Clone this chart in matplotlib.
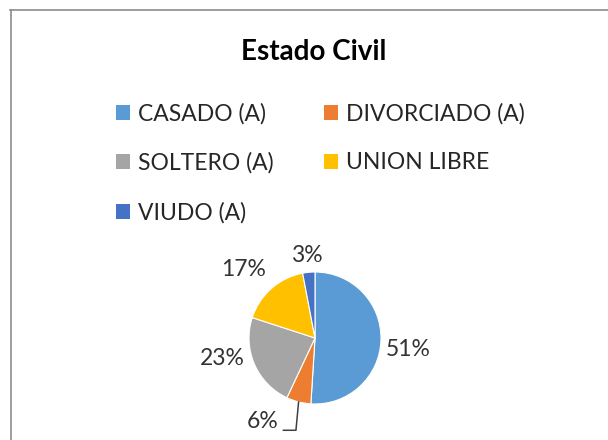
import numpy as np
import matplotlib
matplotlib.use("Agg")
import matplotlib.pyplot as plt
from matplotlib.patches import Patch
from matplotlib.lines import Line2D

plt.rcParams['font.family'] = ['Lato', 'DejaVu Sans']

categories = ['CASADO (A)', 'DIVORCIADO (A)', 'SOLTERO (A)', 'UNION LIBRE', 'VIUDO (A)']
percents = [51, 6, 23, 17, 3]
colors = ['#5B9BD5', '#ED7D31', '#A5A5A5', '#FFC000', '#4472C4']

# label placement: radial distance (pie radii) and angle nudge (deg)
label_dist = [1.43, 1.49, 1.44, 1.50, 1.26]
label_nudge = [-5, -18, -11, 5, 0]

fig = plt.figure(figsize=(6.08, 4.40), dpi=100)
W, H = 608, 440

# chart border (top and left edge visible)
fig.add_artist(Line2D([10 / W, 1], [1 - 10.5 / H, 1 - 10.5 / H], color='#8c8c8c', lw=1.2))
fig.add_artist(Line2D([10.5 / W, 10.5 / W], [0, 1 - 10.5 / H], color='#8c8c8c', lw=1.2))

fig.text(314 / W, 1 - 52 / H, 'Estado Civil', ha='center', va='center',
         fontsize=20, fontweight='bold', color='black')

# pie axes: centre at (315, 338) px, radius 66 px
L = 2.0
side = 2 * L * 66
ax = fig.add_axes([(315 - side / 2) / W, (H - 338 - side / 2) / H, side / W, side / H])

wedges, _ = ax.pie(percents, colors=colors, startangle=90, counterclock=False,
                   radius=1, wedgeprops=dict(edgecolor='white', linewidth=0.8))
ax.set_xlim(-L, L)
ax.set_ylim(-L, L)
ax.axis('off')

for i, w in enumerate(wedges):
    mid = np.deg2rad((w.theta1 + w.theta2) / 2)
    a = mid + np.deg2rad(label_nudge[i])
    x, y = label_dist[i] * np.cos(a), label_dist[i] * np.sin(a)
    ax.text(x, y, f'{percents[i]}%', ha='center', va='center', fontsize=16.5,
            color='#333333', clip_on=False)
    if categories[i] == 'DIVORCIADO (A)':
        ex, ey = np.cos(mid), np.sin(mid)
        ax.plot([ex, ex - 0.04, x + 0.32], [ey, y - 0.14, y - 0.14],
                color='#404040', lw=1.1, clip_on=False)

handles = [Patch(facecolor=c, edgecolor='none') for c in colors]
order = [0, 2, 4, 1, 3]
fig.legend([handles[i] for i in order], [categories[i] for i in order],
           ncol=2, loc='upper left', bbox_to_anchor=(116 / W, 1 - 103 / H),
           frameon=False, fontsize=16.5, handlelength=0.62, handleheight=0.62,
           handletextpad=0.35, columnspacing=2.2, labelspacing=1.22,
           borderpad=0, borderaxespad=0, labelcolor='#262626')

fig.savefig('out.png', dpi=100)
